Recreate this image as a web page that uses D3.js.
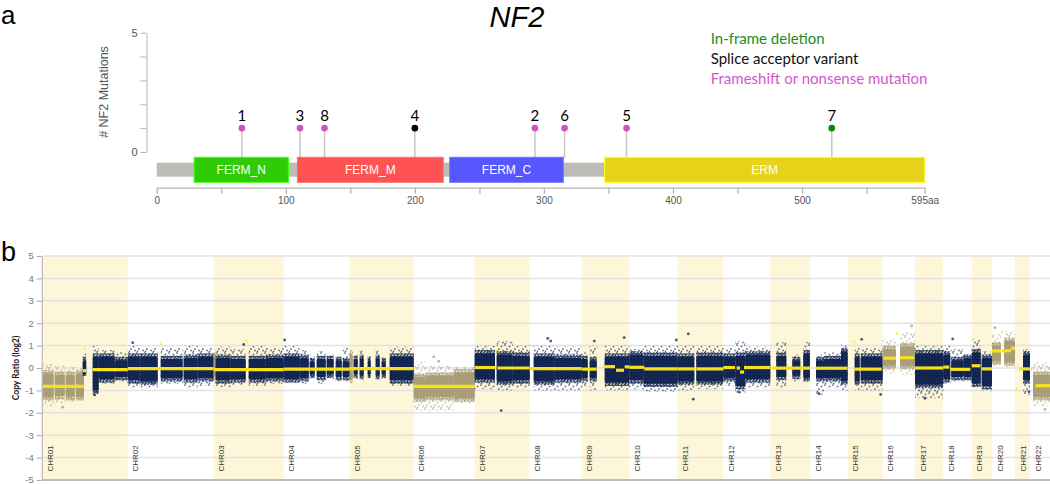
<!DOCTYPE html>
<html>
<head>
<meta charset="utf-8">
<script src="https://cdn.jsdelivr.net/npm/d3@7"></script>
<style>
body { margin: 0; background: #fff; }
svg { display: block; font-family: "Liberation Sans", Arial, sans-serif; }
</style>
</head>
<body>
<div id="chart"></div>
<script>
// ---------- panel a : NF2 protein ----------
var proteinLength = 595;
var domainNames = ["FERM_N", "FERM_M", "FERM_C", "ERM"];
var domainStart = [29, 109, 227, 347];
var domainEnd = [102, 222, 315, 595];
var domainColors = ["#2fcc06", "#ff5353", "#5757ff", "#e8d31b"];

var mutationIds = [1, 3, 8, 4, 2, 6, 5, 7];
var mutationPos = [66, 111, 130, 200, 293, 316, 364, 523];
var mutationCount = [1, 1, 1, 1, 1, 1, 1, 1];
var mutationType = ["fs", "fs", "fs", "splice", "fs", "fs", "fs", "inframe"];

var legendLabels = ["In-frame deletion", "Splice acceptor variant", "Frameshift or nonsense mutation"];
var legendTypes = ["inframe", "splice", "fs"];

var mutTicks = [0, 1, 2, 3, 4, 5];
var protTicks = [0, 50, 100, 150, 200, 250, 300, 350, 400, 450, 500, 550, 595];

// ---------- panel b : copy ratio ----------
var chromNames = ["CHR01","CHR02","CHR03","CHR04","CHR05","CHR06","CHR07","CHR08","CHR09","CHR10","CHR11",
                  "CHR12","CHR13","CHR14","CHR15","CHR16","CHR17","CHR18","CHR19","CHR20","CHR21","CHR22"];
// relative length of each chromosome on the plot
var chromLengths = [85, 86, 70, 66, 64, 61, 55, 52, 47.6, 48, 46, 47, 39.7, 37.7, 35, 32.3, 28.3, 28.4, 20.3, 23, 15, 25];

// [chrom, start, end, log2 ratio]
var segments = [
  [1,0,41,-0.82],[1,40,43.5,-0.12],[1,41.5,42.5,0.85],[1,50,85,-0.07],
  [2,0,86,-0.03],[2,32.5,33.5,1.06],
  [3,0,70,-0.07],[3,32.5,33.5,1.2],
  [4,0,66,-0.05],
  [5,0,64,-0.03],
  [6,0,61,-0.82],
  [7,0,20.3,0.02],[7,22.6,55,0.0],[7,21.5,22.5,0.76],
  [8,0,52,-0.03],
  [9,0,15,-0.05],[9,21.7,33.3,0.06],[9,34.3,42.3,-0.1],[9,43,47.6,0.05],[9,15.2,16.2,0.93],
  [10,0,15,0.03],[10,15,48,-0.04],
  [11,0,17.5,-0.04],[11,19,46,-0.04],[11,19,20,-0.73],
  [12,0,11.7,0.02],[12,13.3,16.7,0.0],[12,16.7,20.7,-0.18],[12,20.7,47,0.02],
  [13,2,39.7,-0.01],
  [14,6,37.7,-0.01],
  [15,6.5,34,-0.05],[15,6,7,1.18],
  [16,0.5,13.3,0.44],[16,17.3,31.5,0.46],[16,13.5,14.5,1.55],
  [17,0,28.3,0.0],
  [18,0,6,0.04],[18,7,27,-0.06],
  [19,0,8.7,0.1],[19,9.7,20.3,-0.04],
  [20,0,9,0.76],[20,10,19,0.77],[20,19,23,0.88],[20,9.5,10.5,1.6],
  [21,0.5,2,-0.95],[21,4,15,-0.04],
  [22,1,2,-0.06],[22,5.5,25,-0.79]
];

// point clouds: [chrom, start, end, outerLo, coreLo, coreHi, outerHi, kind]  kind n = neutral, c = changed
var clusters = [
  [1,0,11,-1.7,-1.3,-0.25,0.2,"c"],[1,12,22,-1.6,-1.25,-0.3,0.1,"c"],[1,23,32,-1.5,-1.3,-0.3,0.05,"c"],[1,33,41.3,-1.45,-1.3,-0.25,0.0,"c"],
  [1,40,43.5,-0.35,-0.3,0.35,0.75,"n"],[1,50,56,-1.25,-1.0,0.5,1.0,"n"],[1,56,72,-0.7,-0.5,0.5,0.8,"n"],[1,72,85,-0.6,-0.4,0.35,0.7,"n"],
  [2,0,12,-0.9,-0.55,0.5,1.0,"n"],[2,12,30,-0.9,-0.6,0.5,0.9,"n"],[2,33,55,-0.7,-0.45,0.4,0.9,"n"],[2,56,70,-0.9,-0.5,0.45,1.0,"n"],[2,70,86,-0.8,-0.45,0.5,0.9,"n"],
  [3,0,2,-0.9,-0.4,0.6,0.7,"c"],[3,2,17,-0.85,-0.55,0.45,0.95,"n"],[3,17,32,-0.75,-0.5,0.4,0.85,"n"],[3,35,52,-0.8,-0.5,0.4,1.0,"n"],[3,52,70,-0.7,-0.45,0.45,0.9,"n"],
  [4,0,16,-0.65,-0.5,0.5,1.0,"n"],[4,16,25,-0.7,-0.45,0.45,0.8,"n"],[4,26,31,-0.5,-0.3,0.3,0.6,"n"],[4,33,42,-0.7,-0.4,0.4,0.75,"n"],
  [4,43,50,-0.5,-0.3,0.4,0.6,"n"],[4,52,58,-0.6,-0.4,0.35,0.5,"n"],[4,59,66,-0.6,-0.4,0.3,0.9,"n"],
  [5,0,3,-0.7,-0.5,0.6,0.9,"c"],[5,4,8,-0.5,-0.3,0.4,0.6,"n"],[5,10,14,-0.55,-0.35,0.45,0.8,"n"],[5,18,21,-0.5,-0.3,0.35,0.6,"n"],
  [5,26,30,-0.55,-0.35,0.45,0.8,"n"],[5,32,36,-0.5,-0.3,0.3,0.5,"n"],[5,40,64,-0.8,-0.55,0.5,0.95,"n"],
  [6,0,12,-1.9,-1.35,-0.4,0.3,"c"],[6,12,40,-1.9,-1.3,-0.35,0.1,"c"],[6,40,61,-1.6,-1.35,-0.2,0.05,"c"],
  [7,0,20.3,-0.95,-0.5,0.65,1.0,"n"],[7,22,38,-1.0,-0.6,0.6,1.2,"n"],[7,38,55,-0.9,-0.55,0.55,1.0,"n"],
  [8,4,25,-1.0,-0.6,0.5,1.0,"n"],[8,25,52,-1.0,-0.5,0.45,0.95,"n"],
  [9,0,6,-0.9,-0.45,0.4,0.7,"n"],[9,8,15,-1.0,-0.45,0.35,1.0,"n"],[9,23,47.6,-1.0,-0.65,0.5,1.0,"n"],
  [10,0,14,-0.95,-0.55,0.6,0.85,"n"],[10,14,48,-1.05,-0.7,0.55,1.0,"n"],
  [11,0,17,-1.0,-0.6,0.5,1.0,"n"],[11,19,46,-0.95,-0.6,0.55,1.0,"n"],
  [12,0,12,-0.8,-0.45,0.5,0.9,"n"],[12,12,22,-1.1,-0.8,0.55,1.2,"n"],[12,22,47,-0.9,-0.5,0.6,0.95,"n"],
  [13,6,16,-0.9,-0.4,0.55,1.15,"n"],[13,22,30,-0.6,-0.35,0.35,0.6,"n"],[13,33,39.7,-0.6,-0.45,0.65,1.15,"n"],
  [14,6,14,-1.2,-0.45,0.35,0.6,"n"],[14,14,31,-0.9,-0.45,0.4,0.7,"n"],[14,31,37.7,-1.0,-0.6,0.75,1.05,"n"],
  [15,7,12,-1.0,-0.6,0.5,0.9,"n"],[15,13,35,-1.0,-0.55,0.5,0.9,"n"],
  [16,0,13.3,-0.25,0.1,0.85,1.3,"c"],[16,17.3,32.3,-0.3,0.1,0.95,1.6,"c"],
  [17,0,28.3,-1.35,-0.75,0.65,1.0,"n"],
  [18,0,7,-0.7,-0.5,0.6,1.0,"n"],[18,8,20,-0.6,-0.4,0.35,0.85,"n"],[18,20,28.4,-0.55,-0.4,0.45,0.6,"n"],
  [19,0,9,-0.85,-0.7,0.7,1.3,"n"],[19,10,20.3,-1.0,-0.8,0.45,0.75,"n"],
  [20,0,9,0.1,0.3,1.0,1.5,"c"],[20,12,23,0.05,0.25,1.2,1.65,"c"],
  [21,8,15,-1.2,-0.55,0.6,0.85,"n"],
  [22,3,25,-1.7,-1.3,-0.3,0.25,"c"]
];

// isolated points: [chrom, position, log2 ratio, kind]
var outliers = [
  [1,52,-1.2,"n"],[2,5,1.13,"n"],[3,30,1.05,"n"],[4,1,1.25,"n"],[7,26.5,-1.9,"n"],[8,18,1.32,"n"],[8,21,1.2,"n"],
  [9,12.6,1.2,"n"],[9,42.5,1.36,"n"],[10,47,1.25,"n"],[11,11,1.52,"n"],[11,16,-1.39,"n"],[12,16,-1.08,"n"],
  [14,9,-1.15,"n"],[15,14,1.28,"n"],[15,33,-1.18,"n"],[16,29,1.88,"c"],[17,10,-1.35,"n"],[18,9.4,1.3,"n"],
  [20,3,1.8,"c"],[21,14,-1.06,"n"],[6,20,0.5,"c"],[6,25,0.3,"c"],[22,15,-1.85,"c"],[1,20,-1.75,"c"]
];

var ratioTicks = [-5, -4, -3, -2, -1, 0, 1, 2, 3, 4, 5];

// ---------- drawing ----------
var width = 1050, height = 484;
var svg = d3.select("#chart").append("svg")
  .attr("width", width)
  .attr("height", height);

var typeDot = { inframe: "#0b850b", splice: "#000000", fs: "#cc55c4" };
var typeText = { inframe: "#1b8d1b", splice: "#111111", fs: "#d257c9" };
var navy = "#0b1f4d", tan = "#a69a72";

// panel letters and title
svg.append("text").attr("x", 1).attr("y", 24)
  .style("font-size", "26px").text("a");
svg.append("text").attr("x", 1).attr("y", 261)
  .style("font-size", "27px").text("b");
svg.append("text").attr("x", 517).attr("y", 27).attr("text-anchor", "middle")
  .style("font-style", "italic")
  .style("font-size", "29px").text("NF2");

var xProt = d3.scaleLinear().domain([0, proteinLength]).range([156.7, 924.7]);
var yMut = d3.scaleLinear().domain([0, 5]).range([152, 32.7]);

var yAxisA = d3.axisLeft(yMut).tickValues(mutTicks).tickSize(6).tickSizeOuter(0)
  .tickFormat(function(d) { return (d === 0 || d === 5) ? d : ""; });
var gYA = svg.append("g").attr("transform", "translate(146.5,0)").call(yAxisA);
gYA.selectAll("path, line").attr("stroke", "#b5b5b5");
gYA.selectAll("text").attr("fill", "#555").style("font-size", "11px");

svg.append("text")
  .attr("transform", "translate(108,92) rotate(-90)")
  .attr("text-anchor", "middle")
  .attr("fill", "#555")
  .style("font-size", "12.5px")
  .text("# NF2 Mutations");

var xAxisA = d3.axisBottom(xProt).tickValues(protTicks).tickSize(6).tickSizeOuter(0)
  .tickFormat(function(d) { return d === 595 ? "595aa" : (d % 100 === 0 ? d : ""); });
var gXA = svg.append("g").attr("transform", "translate(0,187.7)").call(xAxisA);
gXA.selectAll("path, line").attr("stroke", "#b5b5b5").attr("stroke-width", 1.3);
gXA.selectAll("text").attr("fill", "#555").style("font-size", "10px");

// backbone
svg.append("rect")
  .attr("x", xProt(0)).attr("y", 162.7)
  .attr("width", xProt(proteinLength) - xProt(0)).attr("height", 14)
  .attr("fill", "#bcbdb6");

// stems and heads
var muts = mutationIds.map(function(id, i) {
  return { id: id, pos: mutationPos[i], count: mutationCount[i], type: mutationType[i] };
});
svg.selectAll(".stem").data(muts).enter().append("line")
  .attr("class", "stem")
  .attr("x1", function(d) { return xProt(d.pos); })
  .attr("x2", function(d) { return xProt(d.pos); })
  .attr("y1", function(d) { return yMut(d.count); })
  .attr("y2", 158)
  .attr("stroke", "#c6c6c6").attr("stroke-width", 1.5);

// domains
var doms = domainNames.map(function(n, i) {
  return { name: n, start: domainStart[i], end: domainEnd[i], color: domainColors[i] };
});
var gDom = svg.selectAll(".dom").data(doms).enter().append("g").attr("class", "dom");
gDom.append("rect")
  .attr("x", function(d) { return xProt(d.start); })
  .attr("y", 157.3)
  .attr("width", function(d) { return xProt(d.end) - xProt(d.start); })
  .attr("height", 25)
  .attr("fill", function(d) { return d.color; })
  .attr("stroke", function(d) { return d3.color(d.color).brighter(0.7); })
  .attr("stroke-width", 1);
gDom.append("text")
  .attr("x", function(d) { return (xProt(d.start) + xProt(d.end)) / 2; })
  .attr("y", 174)
  .attr("text-anchor", "middle")
  .attr("fill", "#fff")
  .style("font-size", "12px")
  .text(function(d) { return d.name; });

svg.selectAll(".head").data(muts).enter().append("circle")
  .attr("class", "head")
  .attr("cx", function(d) { return xProt(d.pos); })
  .attr("cy", function(d) { return yMut(d.count); })
  .attr("r", 3.3)
  .attr("fill", function(d) { return typeDot[d.type]; });
svg.selectAll(".mlab").data(muts).enter().append("text")
  .attr("class", "mlab")
  .attr("x", function(d) { return xProt(d.pos); })
  .attr("y", function(d) { return yMut(d.count) - 7.5; })
  .attr("text-anchor", "middle")
  .style("font-family", "Lato, sans-serif").style("font-size", "15px")
  .text(function(d) { return d.id; });

// legend
svg.selectAll(".leg").data(legendLabels).enter().append("text")
  .attr("class", "leg")
  .attr("x", 710.7)
  .attr("y", function(d, i) { return 44 + i * 20; })
  .attr("fill", function(d, i) { return typeText[legendTypes[i]]; })
  .style("font-family", "Lato, sans-serif").style("font-size", "15px")
  .text(function(d) { return d; });

// ---------- panel b ----------
var chromStart = [];
var acc = 0;
chromLengths.forEach(function(l) { chromStart.push(acc); acc += l; });
var totalLen = acc;

var plotLeft = 42.7, plotRight = 1050;
var xG = d3.scaleLinear().domain([0, totalLen]).range([plotLeft, plotLeft + totalLen]);
var yR = d3.scaleLinear().domain([-5, 5]).range([480, 256]);
function gx(chr, pos) { return xG(chromStart[chr - 1] + pos); }

var defs = svg.append("defs");
defs.append("clipPath").attr("id", "plotClip").append("rect")
  .attr("x", 42).attr("y", 250).attr("width", plotRight - 42).attr("height", 232);

// speckle textures for the sparse and dense parts of each point cloud
var sparseDots = [[1, 1], [5.5, 2.5], [3, 5], [7, 6.5], [1.5, 7.5]];
var denseDots = [[0.8, 0.8], [2.6, 1.6], [1.4, 2.6]];
[["sparseN", navy, 8, sparseDots, 0.6], ["sparseC", tan, 8, sparseDots, 0.6],
 ["denseN", navy, 3.2, denseDots, 0.85], ["denseC", tan, 3.2, denseDots, 0.85]].forEach(function(p) {
  var pat = defs.append("pattern").attr("id", p[0])
    .attr("patternUnits", "userSpaceOnUse").attr("width", p[2]).attr("height", p[2]);
  pat.selectAll("circle").data(p[3]).enter().append("circle")
    .attr("cx", function(d) { return d[0]; })
    .attr("cy", function(d) { return d[1]; })
    .attr("r", 0.95)
    .attr("fill", p[1]).attr("fill-opacity", p[4]);
});

var plot = svg.append("g").attr("clip-path", "url(#plotClip)");

// alternating chromosome bands
plot.selectAll(".band").data(chromNames).enter().append("rect")
  .attr("class", "band")
  .attr("x", function(d, i) { return xG(chromStart[i]); })
  .attr("y", yR(5))
  .attr("width", function(d, i) { return xG(chromLengths[i]) - xG(0); })
  .attr("height", yR(-5) - yR(5))
  .attr("fill", function(d, i) { return i % 2 === 0 ? "#fdf6d9" : "#ffffff"; });

// gridlines
plot.selectAll(".grid").data(ratioTicks).enter().append("line")
  .attr("class", "grid")
  .attr("x1", 42).attr("x2", plotRight)
  .attr("y1", function(d) { return yR(d); })
  .attr("y2", function(d) { return yR(d); })
  .attr("stroke", "#e3e3e3").attr("stroke-width", 1.5);

// point clouds
var fringe = 0.15;
var gc = plot.selectAll(".cl").data(clusters).enter().append("g").attr("class", "cl");
gc.append("rect")
  .attr("x", function(d) { return gx(d[0], d[1]); })
  .attr("width", function(d) { return gx(d[0], d[2]) - gx(d[0], d[1]); })
  .attr("y", function(d) { return yR(d[6]); })
  .attr("height", function(d) { return yR(d[3]) - yR(d[6]); })
  .attr("fill", function(d) { return d[7] === "c" ? "url(#sparseC)" : "url(#sparseN)"; });
gc.append("rect")
  .attr("x", function(d) { return gx(d[0], d[1]); })
  .attr("width", function(d) { return gx(d[0], d[2]) - gx(d[0], d[1]); })
  .attr("y", function(d) { return yR(Math.min(d[5] + fringe, d[6])); })
  .attr("height", function(d) { return yR(Math.max(d[4] - fringe, d[3])) - yR(Math.min(d[5] + fringe, d[6])); })
  .attr("fill", function(d) { return d[7] === "c" ? "url(#denseC)" : "url(#denseN)"; });
gc.append("rect")
  .attr("x", function(d) { return gx(d[0], d[1]); })
  .attr("width", function(d) { return gx(d[0], d[2]) - gx(d[0], d[1]); })
  .attr("y", function(d) { return yR(d[5]); })
  .attr("height", function(d) { return yR(d[4]) - yR(d[5]); })
  .attr("rx", 1.5)
  .attr("fill", function(d) { return d[7] === "c" ? tan : navy; })
  .attr("fill-opacity", 0.9);

plot.selectAll(".out").data(outliers).enter().append("circle")
  .attr("class", "out")
  .attr("cx", function(d) { return gx(d[0], d[1]); })
  .attr("cy", function(d) { return yR(d[2]); })
  .attr("r", 1.4)
  .attr("fill", function(d) { return d[3] === "c" ? tan : navy; })
  .attr("fill-opacity", 0.75);

// segment means
plot.selectAll(".seg").data(segments).enter().append("line")
  .attr("class", "seg")
  .attr("x1", function(d) { return gx(d[0], d[1]); })
  .attr("x2", function(d) { return gx(d[0], d[2]); })
  .attr("y1", function(d) { return yR(d[3]); })
  .attr("y2", function(d) { return yR(d[3]); })
  .attr("stroke", "#f6e11c").attr("stroke-width", 3.2);

// chromosome labels
plot.selectAll(".chrlab").data(chromNames).enter().append("text")
  .attr("class", "chrlab")
  .attr("transform", function(d, i) { return "translate(" + (xG(chromStart[i]) + 10.5) + ",471.5) rotate(-90)"; })
  .attr("fill", "#333")
  .style("font-size", "8px")
  .text(function(d) { return d; });

// axes
svg.append("line").attr("x1", 42).attr("x2", plotRight).attr("y1", 480).attr("y2", 480)
  .attr("stroke", "#b0b0b0").attr("stroke-width", 1.3);
var yAxisB = d3.axisLeft(yR).tickValues(ratioTicks).tickSize(5).tickSizeOuter(0)
  .tickFormat(function(d) { return String(d); });
var gYB = svg.append("g").attr("transform", "translate(41.7,0)").call(yAxisB);
gYB.selectAll("path, line").attr("stroke", "#a8a8a8");
gYB.selectAll("text").attr("fill", "#777").style("font-size", "9.5px").attr("dy", "0.3em");

svg.append("text")
  .attr("transform", "translate(19,368) rotate(-90)")
  .attr("text-anchor", "middle")
  .style("font-family", "Lato, sans-serif")
  .style("font-weight", "bold")
  .style("font-size", "8.5px")
  .attr("fill", "#222")
  .text("Copy Ratio (log2)");
</script>
</body>
</html>
